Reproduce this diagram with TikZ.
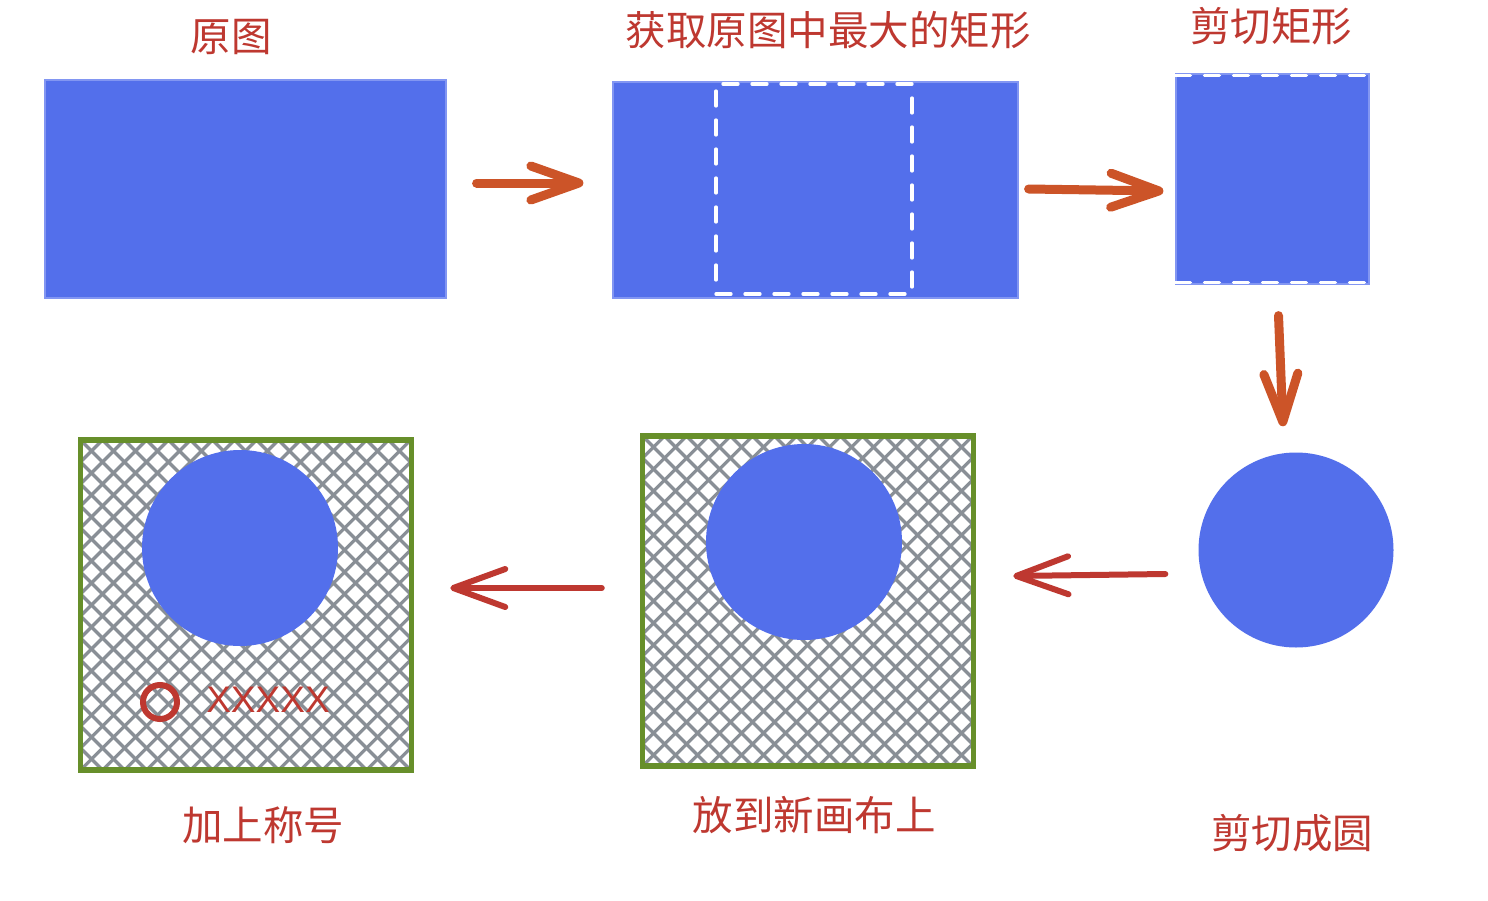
\documentclass[tikz,border=0pt]{standalone}
\usepackage{fontspec}
\newfontfamily\cjk{Noto Sans CJK SC}
\newfontfamily\latinsans{Liberation Sans}
\usetikzlibrary{arrows.meta,calc}
\definecolor{blueF}{RGB}{83,111,235}
\definecolor{blueL}{RGB}{130,150,242}
\definecolor{orangeA}{RGB}{204,84,40}
\definecolor{redA}{RGB}{190,56,48}
\definecolor{greenB}{RGB}{103,143,42}
\definecolor{grayH}{RGB}{137,143,150}
\tikzset{
  label/.style={font=\cjk\fontsize{40.5}{46}\selectfont, text=redA, inner sep=0pt},
  bluerect/.style={fill=blueF, draw=blueL, line width=1.2pt, inner sep=0pt},
  bluecircle/.style={circle, fill=blueF, inner sep=0pt},
  whitedash/.style={draw=white, line width=3.3pt, dash pattern=on 15pt off 14pt, line cap=round},
  dashbox/.style={whitedash, inner sep=0pt},
  hatchbox/.style={draw=greenB, line width=5.5pt, inner sep=0pt,
    path picture={
      \foreach \i in {-374,-352,...,726}{
        \draw[grayH, line width=3.2pt] ([xshift=\i pt]path picture bounding box.north west) -- ++(400,400);
        \draw[grayH, line width=3.2pt] ([xshift=\i pt]path picture bounding box.north west) -- ++(-400,400);
      }
    }},
  orangearrow/.style={draw=orangeA, line width=9pt, line cap=round,
    -{Straight Barb[length=48pt,width=34pt,round]}},
  redarrow/.style={draw=redA, line width=6pt, line cap=round,
    -{Straight Barb[length=52pt,width=38pt,round]}},
}
\begin{document}
\begin{tikzpicture}[x=1pt,y=-1pt]
\useasboundingbox[fill=white] (0,0) rectangle (1488,900);

% top row
\node[label] (t1) at (231,37) {原图};
\node[bluerect, minimum width=401pt, minimum height=218pt] (r1) at (245.5,189) {};

\node[label] (t2) at (828,30) {获取原图中最大的矩形};
\node[bluerect, minimum width=405pt, minimum height=216pt] (r2) at (815.5,190) {};
\node[dashbox, minimum width=196pt, minimum height=210pt] (d2) at (814,189) {};

\node[label] (t3) at (1271,26) {剪切矩形};
\node[bluerect, minimum width=193pt, minimum height=210pt] (r3) at (1272.5,179) {};
\draw[whitedash] ([yshift=-2pt]r3.north west) -- ([yshift=-2pt]r3.north east);
\draw[whitedash] ([yshift=2pt]r3.south west) -- ([yshift=2pt]r3.south east);

% circle after cut
\node[bluecircle, minimum size=195pt] (c1) at (1296,550) {};
\node[label] (t4) at (1292,833) {剪切成圆};

% middle box
\node[hatchbox, minimum width=331pt, minimum height=330pt] (b2) at (808,601) {};
\node[bluecircle, minimum size=196pt] (c2) at (804,542) {};
\node[label] (t5) at (814,815) {放到新画布上};

% left box
\node[hatchbox, minimum width=331pt, minimum height=330pt] (b1) at (246,605) {};
\node[bluecircle, minimum size=196pt] (c3) at (240,548) {};
\node[circle, draw=redA, line width=6pt, minimum size=34pt, inner sep=0pt] (o1) at (160,702) {};
\node[font=\latinsans\fontsize{37}{40}\selectfont, text=redA, inner sep=0pt] (x1) at (268,700) {XXXXX};
\node[label] (t6) at (263,825) {加上称号};

% arrows
\draw[orangearrow] ([xshift=30pt,yshift=6pt]r1.east) -- ([xshift=-29pt,yshift=7pt]r2.west);
\draw[orangearrow] ([xshift=10pt,yshift=1pt]r2.east) -- ([xshift=-12pt,yshift=-12pt]r3.west);
\draw[orangearrow] ([xshift=6pt,yshift=-31pt]r3.south) -- ([xshift=-13pt,yshift=26pt]c1.north);
\draw[redarrow] ([xshift=-33pt,yshift=-24pt]c1.west) -- ([xshift=37pt,yshift=25pt]b2.east);
\draw[redarrow] ([xshift=-38pt,yshift=13pt]b2.west) -- ([xshift=36pt,yshift=17pt]b1.east);
\end{tikzpicture}
\end{document}
